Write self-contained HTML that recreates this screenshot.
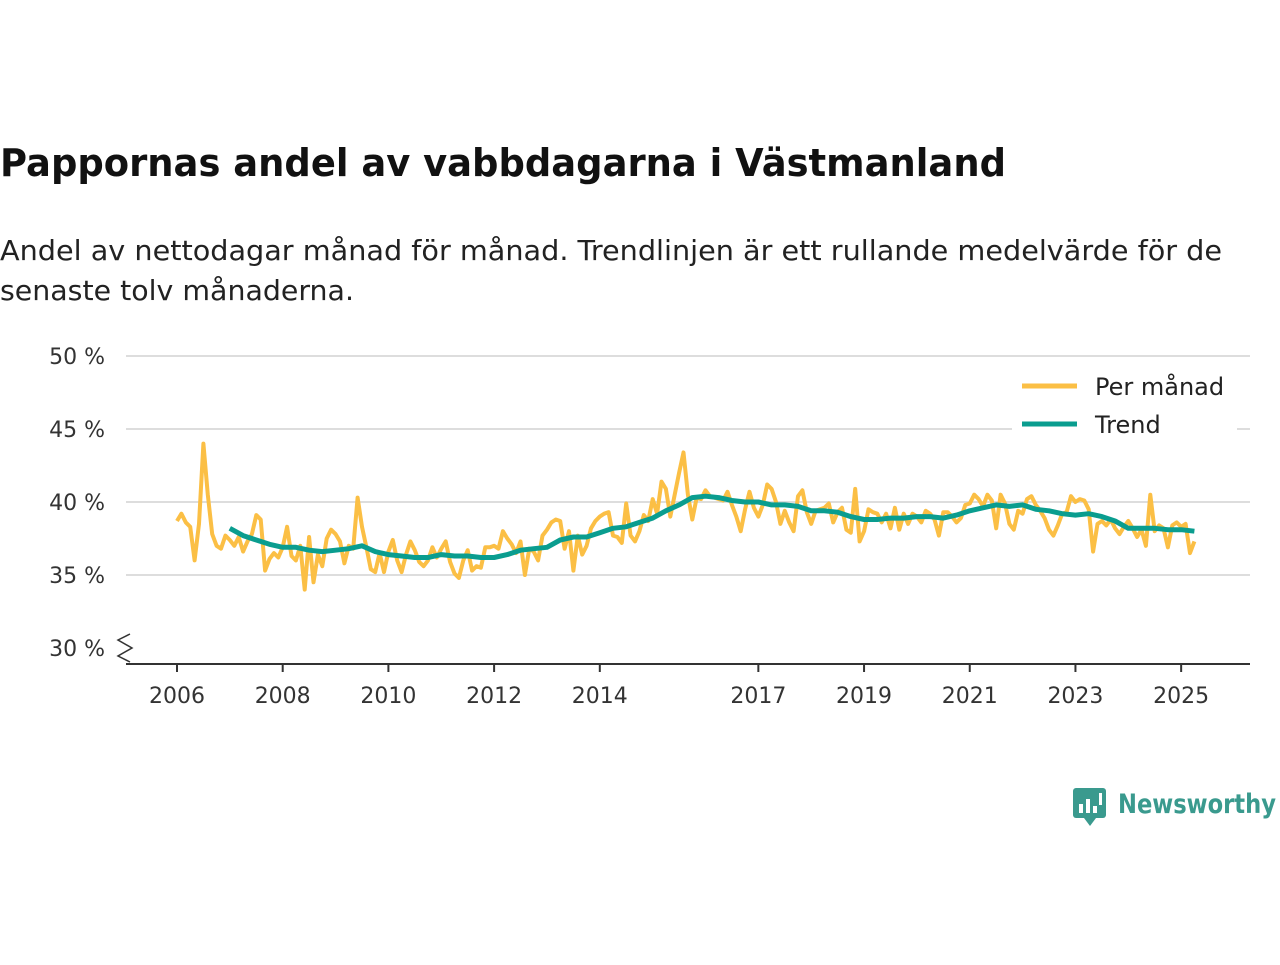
<!DOCTYPE html>
<html><head><meta charset="utf-8"><style>
body{margin:0;background:#fff;font-family:"Liberation Sans","DejaVu Sans",sans-serif;}
svg text{font-family:"DejaVu Sans","Liberation Sans",sans-serif;}
</style></head><body>
<svg width="1280" height="960">
<text x="0" y="176" font-size="38" font-weight="bold" fill="#111" textLength="1006" lengthAdjust="spacingAndGlyphs">Pappornas andel av vabbdagarna i Västmanland</text>
<text x="0" y="260" font-size="28" fill="#222" textLength="1222" lengthAdjust="spacingAndGlyphs">Andel av nettodagar månad för månad. Trendlinjen är ett rullande medelvärde för de</text>
<text x="0" y="300" font-size="28" fill="#222" textLength="354" lengthAdjust="spacingAndGlyphs">senaste tolv månaderna.</text>
<g id="grid"></g><g id="axes"></g><g id="series"></g>
<g>
<rect x="1012" y="366" width="225" height="76" fill="#fff"/>
<line x1="1022" y1="386" x2="1077" y2="386" stroke="#fbbf45" stroke-width="5"/>
<text x="1095" y="395" font-size="24" fill="#222">Per månad</text>
<line x1="1022" y1="424" x2="1077" y2="424" stroke="#0a9d8f" stroke-width="5"/>
<text x="1095" y="433" font-size="24" fill="#222">Trend</text>
</g>
<g>
<rect x="1073" y="788" width="33" height="30" rx="3" fill="#3a9a8e"/>
<polygon points="1084,818 1096,818 1090,826" fill="#3a9a8e"/>
<rect x="1079" y="804" width="4" height="9" fill="#fff"/><rect x="1086" y="799" width="4" height="14" fill="#fff"/><rect x="1093" y="806" width="4" height="7" fill="#fff"/><rect x="1099" y="793" width="3" height="12" fill="#fff"/>
<text x="1118" y="813" font-size="27" font-weight="bold" fill="#3a9a8e" textLength="158" lengthAdjust="spacingAndGlyphs">Newsworthy</text>
</g>
</svg>
<script>
const yTicks=[30,35,40,45,50];
const yearTicks=[2006,2008,2010,2012,2014,2017,2019,2021,2023,2025];
const monthly=[
38.7,39.2,38.6,38.3,36.0,38.5,44.0,40.5,37.8,37.0,36.8,37.7,
37.4,37.0,37.6,36.6,37.3,37.8,39.1,38.8,35.3,36.1,36.5,36.2,
36.9,38.3,36.3,36.0,37.0,34.0,37.6,34.5,36.4,35.6,37.5,38.1,
37.8,37.3,35.8,37.0,36.8,40.3,38.3,36.9,35.4,35.2,36.5,35.2,
36.6,37.4,36.0,35.2,36.4,37.3,36.7,35.9,35.6,36.0,36.9,36.2,
36.8,37.3,35.9,35.1,34.8,36.0,36.7,35.3,35.6,35.5,36.9,36.9,
37.0,36.8,38.0,37.5,37.1,36.5,37.3,35.0,36.8,36.6,36.0,37.7,
38.1,38.6,38.8,38.7,36.8,38.0,35.3,37.7,36.4,37.0,38.2,38.7,
39.0,39.2,39.3,37.7,37.6,37.2,39.9,37.7,37.3,38.0,39.1,38.7,
40.2,39.2,41.4,40.9,39.0,40.5,42.0,43.4,40.5,38.8,40.3,40.2,
40.8,40.4,40.3,40.2,40.1,40.7,39.8,39.0,38.0,39.5,40.7,39.6,
39.0,39.8,41.2,40.9,40.0,38.5,39.4,38.6,38.0,40.4,40.8,39.3,
38.5,39.4,39.5,39.6,39.9,38.6,39.3,39.6,38.1,37.9,40.9,37.3,
38.0,39.5,39.3,39.2,38.6,39.2,38.2,39.6,38.1,39.2,38.5,39.2,
39.0,38.6,39.4,39.2,38.8,37.7,39.3,39.3,39.0,38.6,38.9,39.8,
39.9,40.5,40.2,39.7,40.5,40.1,38.2,40.5,39.9,38.5,38.1,39.4,
39.2,40.2,40.4,39.8,39.4,38.9,38.1,37.7,38.4,39.2,39.3,40.4,
40.0,40.2,40.1,39.5,36.6,38.5,38.7,38.4,38.8,38.2,37.8,38.3,
38.7,38.2,37.6,38.1,37.0,40.5,38.0,38.4,38.2,36.9,38.4,38.6,
38.3,38.5,36.5,37.3];
const trendQuarterly=[38.2,37.7,37.4,37.1,36.9,36.9,36.7,36.6,36.7,36.8,37.0,36.6,36.4,36.3,36.2,36.2,36.4,36.3,36.3,36.2,36.2,36.4,36.7,36.8,36.9,37.4,37.6,37.6,37.9,38.2,38.3,38.6,38.9,39.4,39.8,40.3,40.4,40.3,40.1,40.0,40.0,39.8,39.8,39.7,39.4,39.4,39.3,39.0,38.8,38.8,38.9,38.9,39.0,39.0,38.9,39.1,39.4,39.6,39.8,39.7,39.8,39.5,39.4,39.2,39.1,39.2,39.0,38.7,38.2,38.2,38.2,38.1,38.1,38.0];
const trendStartMonth=12, trendStep=3;
const NS='http://www.w3.org/2000/svg';
const yS=v=>648-(v-30)*14.6;
const xYear=y=>177+(y-2006)*52.85;
const xM=m=>177+m*52.85/12;
function mk(tag,attrs,parent){const e=document.createElementNS(NS,tag);for(const k in attrs)e.setAttribute(k,attrs[k]);document.getElementById(parent).appendChild(e);return e;}
yTicks.forEach(t=>{
  if(t>30){const l=mk('line',{x1:126,x2:1250,y1:yS(t),y2:yS(t),stroke:'#ddd','stroke-width':2},'grid');
  
  }
  const tx=mk('text',{x:105,y:yS(t)+8,'text-anchor':'end','font-size':22,fill:'#333'},'axes');tx.textContent=t+' %';
  
  
});
const ax=mk('line',{x1:126,x2:1250,y1:664,y2:664,stroke:'#333','stroke-width':2},'axes');


const br=mk('polyline',{points:'130,634 118,640 132,648 118,656 130,662',fill:'none',stroke:'#333','stroke-width':1.5},'axes');


yearTicks.forEach(y=>{
  const x=xYear(y);
  const tk=mk('line',{x1:x,x2:x,y1:664,y2:672,stroke:'#333','stroke-width':2},'axes');
  
  
  const tx=mk('text',{x:x,y:703,'text-anchor':'middle','font-size':22,fill:'#333'},'axes');tx.textContent=y;
  
  
});
const mp=monthly.map((v,i)=>xM(i).toFixed(1)+','+yS(v).toFixed(1)).join(' ');
const ml=mk('polyline',{points:mp,fill:'none',stroke:'#fbbf45','stroke-width':4,'stroke-linejoin':'round'},'series');


const tp=trendQuarterly.map((v,i)=>xM(trendStartMonth+i*trendStep).toFixed(1)+','+yS(v).toFixed(1)).join(' ');
const tl=mk('polyline',{points:tp,fill:'none',stroke:'#0a9d8f','stroke-width':5,'stroke-linejoin':'round'},'series');


</script>
</body></html>
